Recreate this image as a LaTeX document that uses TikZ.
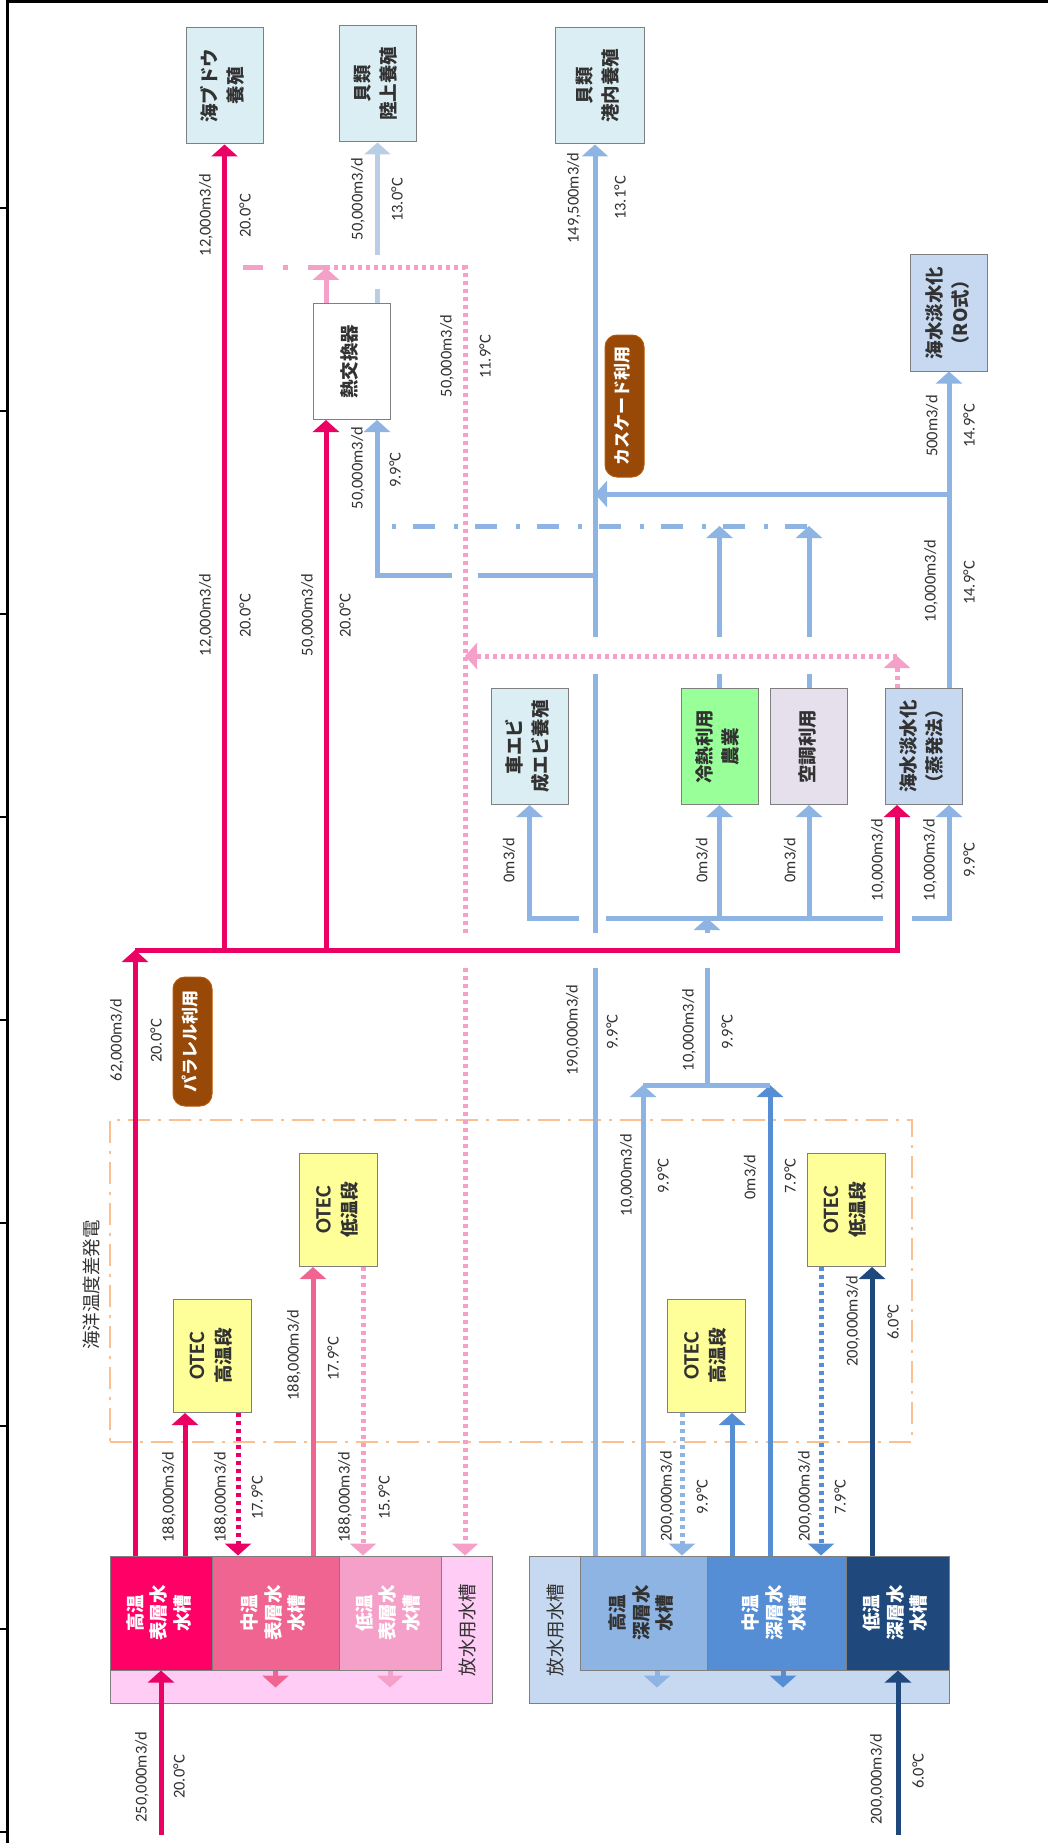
\documentclass[tikz,border=0pt]{standalone}
\usepackage{fontspec}
\setmainfont{Carlito}
\newfontfamily\jp{Noto Sans CJK JP}
\usepackage{graphicx}
\usetikzlibrary{arrows.meta,positioning}

% colours
\definecolor{txt}{RGB}{50,50,50}
\definecolor{pkA}{RGB}{235,0,100}
\definecolor{pkB}{RGB}{240,100,145}
\definecolor{pkC}{RGB}{245,160,200}
\definecolor{pkBg}{RGB}{255,204,245}
\definecolor{tkA}{RGB}{255,0,102}
\definecolor{blA}{RGB}{141,180,226}
\definecolor{blB}{RGB}{85,142,213}
\definecolor{blC}{RGB}{31,73,125}
\definecolor{blV}{RGB}{185,205,229}
\definecolor{blBg}{RGB}{198,217,241}
\definecolor{useFill}{RGB}{219,238,244}
\definecolor{roFill}{RGB}{198,217,241}
\definecolor{agriFill}{RGB}{153,255,153}
\definecolor{acFill}{RGB}{230,224,236}
\definecolor{otecFill}{RGB}{255,255,153}
\definecolor{tagBrown}{RGB}{152,72,7}
\definecolor{areaLine}{RGB}{250,192,144}
\definecolor{boxLine}{RGB}{127,127,127}

\newcommand{\vt}[1]{\rotatebox{90}{\begin{tabular}{@{}c@{}}#1\end{tabular}}}

\begin{document}
\begin{tikzpicture}[%
    x=1pt, y=-1pt,                                  % pixel grid of the sheet
    >={Triangle[width=26pt,length=12pt]}            % flat flow arrows
    ]

\tikzset{
    box/.style={draw=boxLine, line width=1pt, inner sep=0pt, text=txt, font=\jp\bfseries\fontsize{18.5}{26}\selectfont},
    usebox/.style={box, fill=useFill, minimum width=77pt, minimum height=116pt},
    otec/.style={box, fill=otecFill, minimum width=78pt, minimum height=113pt},
    tank/.style={box, minimum height=114pt, text=white, font=\jp\bfseries\fontsize{18.5}{23.5}\selectfont},
    tankbg/.style={draw=boxLine, line width=1pt, minimum height=147pt},
    tagbox/.style={draw=tagBrown!70!orange, line width=1pt, fill=tagBrown, rounded corners=12pt, minimum width=39pt, inner sep=0pt, text=white, font=\jp\bfseries\fontsize{17}{20}\selectfont},
    areabox/.style={draw=areaLine, line width=2.5pt, dash pattern=on 22pt off 8pt on 3pt off 8pt},
    lbl/.style={rotate=90, inner sep=0pt, text=txt, font=\fontsize{16.5}{19}\selectfont},
    jlbl/.style={rotate=90, inner sep=0pt, text=txt, font=\jp\fontsize{18.5}{22}\selectfont},
    % flow lines
    flowline/.style={line width=5pt},
    dotline/.style={flowline, dash pattern=on 4pt off 4pt},
    ddline/.style={flowline, dash pattern=on 4pt off 17pt on 22pt off 19pt},
    pA/.style={flowline, draw=pkA},
    pB/.style={flowline, draw=pkB},
    pC/.style={flowline, draw=pkC},
    pAd/.style={dotline, draw=pkA},
    pCd/.style={dotline, draw=pkC},
    pCdd/.style={flowline, draw=pkC, dash pattern=on 20pt off 20pt on 5pt off 20pt},
    bA/.style={flowline, draw=blA},
    bB/.style={flowline, draw=blB},
    bC/.style={flowline, draw=blC},
    bV/.style={flowline, draw=blV},
    bAd/.style={dotline, draw=blA},
    bBd/.style={dotline, draw=blB},
    bAdd/.style={ddline, draw=blA}
}

\useasboundingbox (0,0) rectangle (1048,1843);

%% sheet frame
\draw[line width=3pt] (7,1843) -- (7,1.5) -- (1048,1.5);
\foreach \t in {208,411,...,1832} \draw[line width=1.5pt] (0,\t) -- (7,\t);

%% OTEC area
\node[areabox, minimum width=802pt, minimum height=322pt] (area) at (511,1281) {};
\node[jlbl] (areaT) at (91,1285) {海洋温度差発電};

%% Surface water tanks
\node[tankbg, fill=pkBg, minimum width=382pt] (bgP) at (301,1629.5) {};
\node[tank, fill=tkA, minimum width=102pt] (tkPH) at (161,1613) {\vt{高温\\表層水\\水槽}};
\node[tank, fill=pkB, minimum width=127pt] (tkPM) at (275.5,1613) {\vt{中温\\表層水\\水槽}};
\node[tank, fill=pkC, minimum width=102pt] (tkPL) at (390,1613) {\vt{低温\\表層水\\水槽}};
\node[jlbl] (relP) at (467,1630) {放水用水槽};

%% Deep water tanks
\node[tankbg, fill=blBg, minimum width=420pt] (bgB) at (739,1629.5) {};
\node[tank, fill=blA, text=txt, minimum width=127pt] (tkBH) at (643.5,1613) {\vt{高温\\深層水\\水槽}};
\node[tank, fill=blB, minimum width=139pt] (tkBM) at (776.5,1613) {\vt{中温\\深層水\\水槽}};
\node[tank, fill=blC, minimum width=103pt] (tkBL) at (897.5,1613) {\vt{低温\\深層水\\水槽}};
\node[jlbl] (relB) at (555,1630) {放水用水槽};

%% OTEC stages
\node[otec] (otecPH) at (212,1356) {\vt{{\rmfamily\bfseries\fontsize{22}{26}\selectfont OTEC}\\高温段}};
\node[otec] (otecPL) at (338.5,1210) {\vt{{\rmfamily\bfseries\fontsize{22}{26}\selectfont OTEC}\\低温段}};
\node[otec] (otecBH) at (706.5,1356) {\vt{{\rmfamily\bfseries\fontsize{22}{26}\selectfont OTEC}\\高温段}};
\node[otec] (otecBL) at (846,1210) {\vt{{\rmfamily\bfseries\fontsize{22}{26}\selectfont OTEC}\\低温段}};

%% Uses
\node[usebox] (grape) at (224.5,86) {\vt{海ブドウ\\養殖}};
\node[usebox] (shellL) at (377.5,84) {\vt{貝類\\陸上養殖}};
\node[usebox, minimum width=89pt] (shellP) at (599.5,86) {\vt{貝類\\港内養殖}};
\node[usebox, fill=roFill] (ro) at (949,313) {\vt{海水淡水化\\（RO式）}};
\node[usebox, fill=white] (hx) at (351.5,361.5) {\vt{熱交換器}};
\node[usebox] (prawn) at (529.5,746.5) {\vt{車エビ\\成エビ養殖}};
\node[usebox, fill=agriFill] (agri) at (719.5,746.5) {\vt{冷熱利用\\農業}};
\node[usebox, fill=acFill] (ac) at (809,746.5) {\vt{空調利用}};
\node[usebox, fill=roFill] (evap) at (923.5,746.5) {\vt{海水淡水化\\（蒸発法）}};

%% Tags
\node[tagbox, minimum height=129pt] (par) at (192.5,1041.5) {\vt{パラレル利用}};
\node[tagbox, minimum height=142pt] (cas) at (624.5,406) {\vt{カスケード利用}};

%% Surface water flows
\coordinate (inP) at (161,1835);
\coordinate (pj) at (135,950);
\coordinate (pe) at (897,950);
\coordinate (hxo) at (326,268);
\coordinate (evo) at (897,656);
\draw[pA,->] (inP) -- (tkPH.south -| inP);
\draw[pB,->] (tkPM.south) -- ++(0,17);
\draw[pC,->] (tkPL.south) -- ++(0,17);
\draw[pA,->] (tkPH.north -| 185,0) -- (otecPH.south -| 185,0);
\draw[pAd,->] (otecPH.south -| 238,0) -- (tkPM.north -| 238,0);
\draw[pB,->] (tkPM.north -| 313,0) -- (otecPL.south -| 313,0);
\draw[pCd,->] (otecPL.south -| 363,0) -- (tkPL.north -| 363,0);
\draw[pA,->] (tkPH.north -| pj) -- (pj);
\draw[pA,->] (pj) -- (pe) -- (evap.south -| pe);
\draw[pA,->] (pj -| grape) -- (grape.south);
\draw[pA,->] (pj -| hxo) -- (hx.south -| hxo);
\draw[pC,->] (hx.north -| hxo) -- (hxo);
\draw[pCdd] (243,268) -- (hxo);
\draw[pCd,->] (hxo) -- (465,268) -- (465,933) (465,968) -- (bgP.north -| 465,0);
\draw[pCd,->] (evap.north -| evo) -- (evo);
\draw[pCd,->] (evo) -- (465,656);

%% Deep water flows
\coordinate (inB) at (898,1835);
\coordinate (bj) at (707,1085);
\draw[bC,->] (inB) -- (tkBL.south -| inB);
\draw[bA,->] (tkBH.south -| 657,0) -- ++(0,17);
\draw[bB,->] (tkBM.south -| 783,0) -- ++(0,17);
\draw[bAd,->] (otecBH.south -| 682,0) -- (tkBH.north -| 682,0);
\draw[bB,->] (tkBM.north -| 732,0) -- (otecBH.south -| 732,0);
\draw[bBd,->] (otecBL.south -| 821,0) -- (tkBM.north -| 821,0);
\draw[bC,->] (tkBL.north -| 872,0) -- (otecBL.south -| 872,0);
\draw[bA,->] (tkBH.north -| 643,0) -- (643,1085);
\draw[bB,->] (tkBM.north -| 770,0) -- (770,1085);
\draw[bA] (643,1085) -- (770,1085);
\draw[bA,->] (bj) -- (707,968) (707,933) -- (707,918);
\draw[bA,->] (tkBH.north -| 595,0) -- (595,968) (595,933) -- (595,674) (595,637) -- (shellP.south -| 595,0);
% distribution
\draw[bA,->] (579,918) -- (prawn.south |- 0,918) -- (prawn.south);
\draw[bA] (606,918) -- (883,918);
\draw[bA,->] (agri.south |- 0,918) -- (agri.south);
\draw[bA,->] (ac.south |- 0,918) -- (ac.south);
\draw[bA,->] (912,918) -- (949,918) -- (evap.south -| 949,0);
\draw[bA,->] (evap.north -| ro) -- (ro.south);
\draw[bA,->] (949,494) -- (595,494);
\draw[bA,->] (agri.north) -- (agri.north |- 0,674) (agri.north |- 0,637) -- (agri.north |- 0,526);
\draw[bA,->] (ac.north) -- (ac.north |- 0,674) (ac.north |- 0,637) -- (ac.north |- 0,526);
\draw[bAdd] (392,526) -- (808,526);
\draw[bA,->] (595,575) -- (478,575) (452,575) -- (377,575) -- (hx.south -| 377,0);
\draw[bV] (hx.north -| 377,0) -- (377,289);
\draw[bV,->] (shellL.south |- 0,255) -- (shellL.south);

%% Labels, surface side
\node[lbl] (qInP) at (142,1777) {250,000m3/d};
\node[lbl] (tInP) at (179,1777) {20.0°C};
\node[lbl] (qPH1) at (169,1497) {188,000m3/d};
\node[lbl] (qPH2) at (221,1497) {188,000m3/d};
\node[lbl] (tPH2) at (257,1498) {17.9°C};
\node[lbl] (qPL2) at (345,1497) {188,000m3/d};
\node[lbl] (tPL2) at (384,1498) {15.9°C};
\node[lbl] (qPM) at (294,1355) {188,000m3/d};
\node[lbl] (tPM) at (333,1359) {17.9°C};
\node[lbl] (qPar) at (117,1040) {62,000m3/d};
\node[lbl] (tPar) at (156,1041) {20.0°C};
\node[lbl] (qGr1) at (206,615) {12,000m3/d};
\node[lbl] (tGr1) at (245,616) {20.0°C};
\node[lbl] (qHx1) at (308,615) {50,000m3/d};
\node[lbl] (tHx1) at (345,616) {20.0°C};
\node[lbl] (qGr2) at (206,215) {12,000m3/d};
\node[lbl] (tGr2) at (245,216) {20.0°C};
\node[lbl] (qHxO) at (447,356) {50,000m3/d};
\node[lbl] (tHxO) at (485,357) {11.9°C};
\node[lbl] (qEvP) at (878,860) {10,000m3/d};

%% Labels, deep side
\node[lbl] (qInB) at (877,1779) {200,000m3/d};
\node[lbl] (tInB) at (918,1771) {6.0°C};
\node[lbl] (qBH2) at (667,1496) {200,000m3/d};
\node[lbl] (tBH2) at (702,1497) {9.9°C};
\node[lbl] (qBL2) at (805,1496) {200,000m3/d};
\node[lbl] (tBL2) at (840,1497) {7.9°C};
\node[lbl] (qBL1) at (853,1321) {200,000m3/d};
\node[lbl] (tBL1) at (893,1322) {6.0°C};
\node[lbl] (qBH3) at (627,1175) {10,000m3/d};
\node[lbl] (tBH3) at (663,1176) {9.9°C};
\node[lbl] (qBM3) at (750,1177) {0m3/d};
\node[lbl] (tBM3) at (790,1176) {7.9°C};
\node[lbl] (qCas) at (573,1030) {190,000m3/d};
\node[lbl] (tCas) at (612,1032) {9.9°C};
\node[lbl] (qMix) at (689,1030) {10,000m3/d};
\node[lbl] (tMix) at (727,1032) {9.9°C};
\node[lbl] (qPr) at (509,860) {0m3/d};
\node[lbl] (qAg) at (702,860) {0m3/d};
\node[lbl] (qAc) at (790,860) {0m3/d};
\node[lbl] (qEvB) at (930,860) {10,000m3/d};
\node[lbl] (tEvB) at (969,860) {9.9°C};
\node[lbl] (qEvO) at (931,581) {10,000m3/d};
\node[lbl] (tEvO) at (969,583) {14.9°C};
\node[lbl] (qRo) at (932,426) {500m3/d};
\node[lbl] (tRo) at (969,426) {14.9°C};
\node[lbl] (qHx2) at (358,468) {50,000m3/d};
\node[lbl] (tHx2) at (395,470) {9.9°C};
\node[lbl] (qSL) at (358,199) {50,000m3/d};
\node[lbl] (tSL) at (397,200) {13.0°C};
\node[lbl] (qSP) at (574,198) {149,500m3/d};
\node[lbl] (tSP) at (620,198) {13.1°C};
\end{tikzpicture}
\end{document}
